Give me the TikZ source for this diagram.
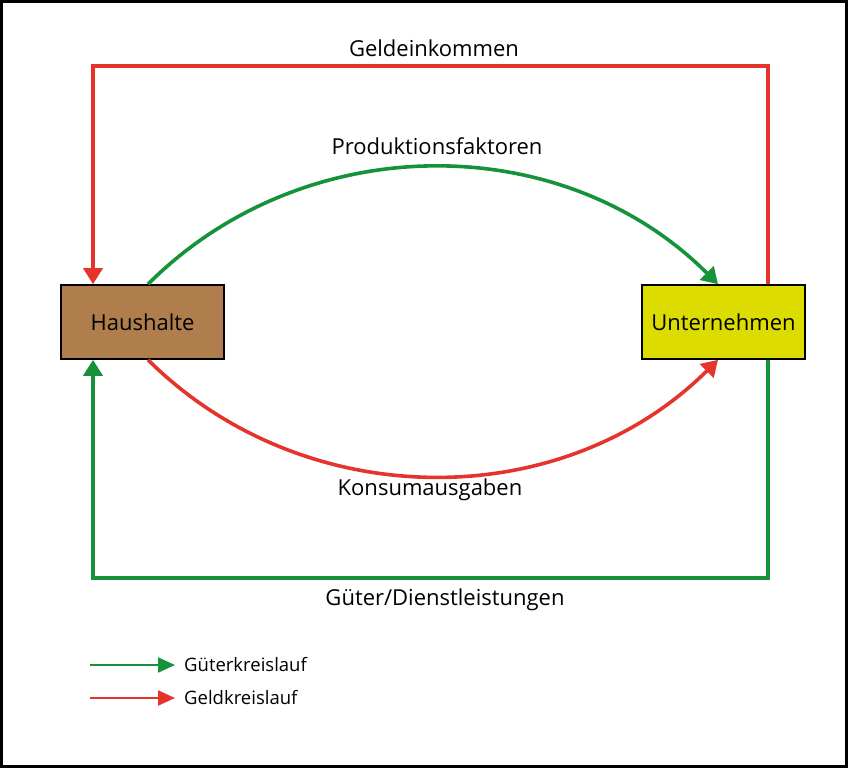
\documentclass[tikz,border=0pt]{standalone}
\usepackage{fontspec}
\setmainfont{Open Sans}
\usepackage{xcolor}
\definecolor{mred}{HTML}{E5342C}
\definecolor{mgreen}{HTML}{16923A}
\definecolor{mbrown}{HTML}{B07E4C}
\definecolor{myellow}{HTML}{DCDC00}
\usetikzlibrary{arrows.meta}
\usetikzlibrary{positioning}

\begin{document}
\begin{tikzpicture}[x=1pt,y=-1pt,
		box/.style={draw=black,line width=1.6pt,minimum width=163pt,minimum height=74pt,inner sep=0pt,font=\fontsize{22}{26}\selectfont},
		lbl/.style={font=\fontsize{22}{26}\selectfont,inner sep=0pt},
		geld/.style={mred,line width=3.6pt,-{Triangle[length=16pt,width=19pt]}},
		gut/.style={mgreen,line width=3.6pt,-{Triangle[length=16pt,width=19pt]}},
		leg/.style={line width=2pt,-{Triangle[length=17pt,width=15pt]}},
		legtext/.style={anchor=west,font=\fontsize{18.5}{22}\selectfont,inner sep=0pt}]
	\draw[line width=3pt] (1.5,1.5) rectangle (846.5,766.5);
	\node[box,fill=mbrown] (haus) at (142.5,322) {Haushalte};
	\node[box,fill=myellow] (unt) at (723.5,322) {Unternehmen};
	% aeussere Kreislaeufe
	\draw[geld] ([xshift=44.5pt]unt.north) -- ++(0,-218) -| ([xshift=-49.5pt]haus.north);
	\draw[gut] ([xshift=44.5pt]unt.south) -- ++(0,218) -| ([xshift=-49.5pt]haus.south);
	% Boegen
	\draw[gut] ([xshift=5.5pt]haus.north) .. controls +(156,-156) and +(-156,-156) .. ([xshift=-5.5pt]unt.north);
	\draw[geld] ([xshift=5.5pt]haus.south) .. controls +(156,155) and +(-156,155) .. ([xshift=-5.5pt]unt.south);
	\node[lbl] (geldein) at (434,48) {Geldeinkommen};
	\node[lbl] (prod) at (437,146) {Produktionsfaktoren};
	\node[lbl] (kons) at (430,490) {Konsumausgaben};
	\node[lbl] (gueter) at (445,600) {Güter/Dienstleistungen};
	% Legende
	\node[legtext] (lgut) at (184,665) {Güterkreislauf};
	\node[legtext] (lgeld) at (184,698) {Geldkreislauf};
	\coordinate (lgut0) at (90,665);
	\coordinate (lgeld0) at (90,698);
	\draw[leg,mgreen] (lgut0) -- ([xshift=-9pt]lgut.west);
	\draw[leg,mred] (lgeld0) -- ([xshift=-9pt]lgeld.west);
\end{tikzpicture}
\end{document}
